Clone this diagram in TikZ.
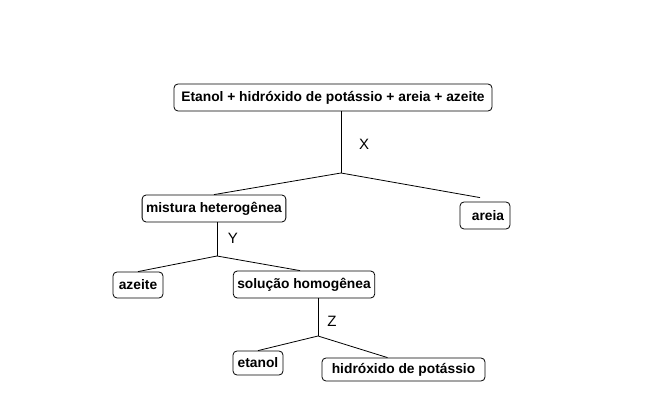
\documentclass[tikz,border=0pt]{standalone}
\usepackage{fontspec}
\setmainfont{Liberation Sans}
\usetikzlibrary{calc}

\begin{document}
\begin{tikzpicture}[x=1pt, y=-1pt,
		caixa/.style={draw, rectangle, rounded corners=4pt, line width=0.8pt, inner xsep=4pt, inner ysep=0pt, minimum height=26pt, font=\fontsize{13.8}{15}\selectfont\bfseries},
		rotulo/.style={font=\fontsize{15}{17}\selectfont},
		linha/.style={draw=black, line width=0.8pt}]
				\useasboundingbox (0,0) rectangle (662,414);
				\node[caixa, minimum width=318pt, minimum height=27pt] (0) at (333,97.5) {Etanol + hidróxido de potássio + areia + azeite};
				\node[caixa, minimum width=142pt, minimum height=27pt] (1) at (214,208.5) {mistura heterogênea};
				\node[caixa, minimum width=50pt, minimum height=27pt] (2) at (485,215.5) {\hspace{6pt}areia};
				\node[caixa, minimum width=50pt] (3) at (138,285) {azeite};
				\node[caixa, minimum width=140pt, minimum height=27pt] (4) at (304,284.5) {solução homogênea};
				\node[caixa, minimum width=50pt, minimum height=24pt] (5) at (258,363) {etanol};
				\node[caixa, minimum width=163pt, minimum height=23pt] (6) at (403.5,369.5) {hidróxido de potássio};
				
				\coordinate (a) at (341,173);
				\coordinate (b) at (217,256);
				\coordinate (c) at (318,336);
				
				\node[rotulo] (x) at (364,144) {X};
				\node[rotulo] (y) at (233,238) {Y};
				\node[rotulo] (z) at (332,321) {Z};
				
				\draw[linha] (0.south -| a) -- (a);
				\draw[linha] (a) -- (1.north);
				\draw[linha] (a) -- ($(2.north)+(-5,-4)$);
				\draw[linha] (1.south -| b) -- (b);
				\draw[linha] (b) -- (3.north);
				\draw[linha] (b) -- ($(4.north)+(-4,0)$);
				\draw[linha] (4.south -| c) -- (c);
				\draw[linha] (c) -- (5.north);
				\draw[linha] (c) -- ($(6.north)+(-16,0)$);
				\end{tikzpicture}
\end{document}
